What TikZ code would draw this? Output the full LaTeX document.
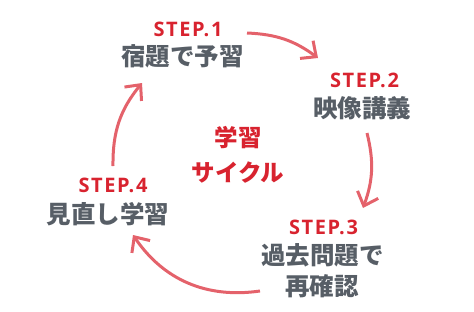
\documentclass[tikz,border=0pt]{standalone}
\usepackage{fontspec}
\setmainfont{Noto Sans}
\newfontfamily\jpfont{Noto Sans CJK JP}
\newfontfamily\stepfont[LetterSpace=8]{Open Sans}
\usetikzlibrary{arrows.meta}
\definecolor{stepred}{HTML}{D8232F}
\definecolor{arcred}{HTML}{E4626B}
\definecolor{taskgray}{HTML}{575E66}

\begin{document}
\begin{tikzpicture}[x=1pt, y=-1pt,
    steplabel/.style={text=stepred, font=\stepfont\bfseries\fontsize{20}{24}\selectfont, inner sep=0},
    task/.style={text=taskgray, font=\jpfont\bfseries\fontsize{24.5}{28}\selectfont, inner sep=0},
    cyclename/.style={text=stepred, font=\jpfont\bfseries\fontsize{23.5}{28}\selectfont, inner sep=0},
    cyclearrow/.style={draw=arcred, line width=3pt, -{Straight Barb[length=12pt, width=22pt]}}]

	\useasboundingbox (0, 0) rectangle (474, 311);

	% centre
	\node (cyc1) [cyclename] at (238, 137.5) {学習};
	\node (cyc2) [cyclename] at (238, 173) {サイクル};

	% steps
	\node (step1) [steplabel] at (188, 29) {STEP.1};
	\node (task1) [task] at (182.5, 56.5) {宿題で予習};

	\node (step2) [steplabel] at (364.5, 80) {STEP.2};
	\node (task2) [task] at (362, 108.5) {映像講義};

	\node (step3) [steplabel] at (323.5, 227.5) {STEP.3};
	\node (task3a) [task] at (322.5, 255) {過去問題で};
	\node (task3b) [task] at (322, 286.5) {再確認};

	\node (step4) [steplabel] at (113, 185.5) {STEP.4};
	\node (task4) [task] at (108, 214) {見直し学習};

	% arc ends
	\coordinate (s1) at (247, 33);
	\coordinate (t1) at (318, 58);
	\coordinate (s2) at (367, 133);
	\coordinate (t2) at (363, 208);
	\coordinate (s3) at (260, 291);
	\coordinate (t3) at (133, 235);
	\coordinate (s4) at (113, 166);
	\coordinate (t4) at (142, 83);

	\path
	(s1) edge[cyclearrow, bend left=17] (t1)
	(s2) edge[cyclearrow, bend left=17] (t2)
	(s3) edge[cyclearrow, bend left=32] (t3)
	(s4) edge[cyclearrow, bend left=20] (t4);

\end{tikzpicture}
\end{document}
